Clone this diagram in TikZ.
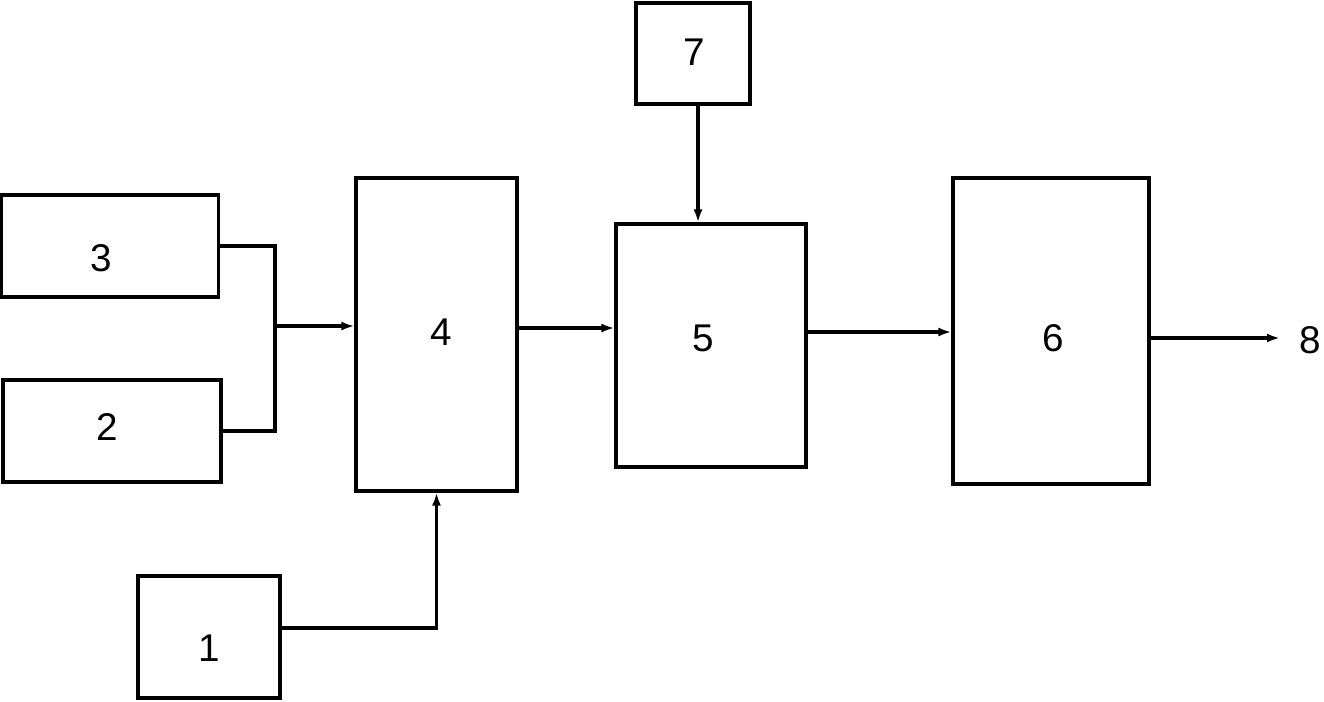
\documentclass[tikz,border=0pt]{standalone}
\usepackage{fontspec}
\setmainfont{Liberation Sans}
\usetikzlibrary{arrows.meta}

\begin{document}
\begin{tikzpicture}[x=0.02cm,y=-0.02cm,line cap=butt,line join=miter,>={Latex[length=2.6mm,width=1.8mm]},
    box/.style={draw,line width=1.8pt,inner sep=0pt},
    num/.style={font=\fontsize{22}{26}\selectfont,inner sep=0pt},
    link/.style={line width=1.8pt}]
        \useasboundingbox (0,0) rectangle (1324,701);
        % blocks
        \node[box,minimum width=4.34cm,minimum height=2.04cm] (b3) at (110,246) {};
        \node[box,minimum width=4.36cm,minimum height=2.04cm] (b2) at (112,431) {};
        \node[box,minimum width=2.84cm,minimum height=2.44cm] (b1) at (209,637) {};
        \node[box,minimum width=3.22cm,minimum height=6.26cm] (b4) at (436.5,334.5) {};
        \node[box,minimum width=2.28cm,minimum height=2.02cm] (b7) at (693,53.5) {};
        \node[box,minimum width=3.80cm,minimum height=4.86cm] (b5) at (711,345.5) {};
        \node[box,minimum width=3.92cm,minimum height=6.12cm] (b6) at (1051,331) {};
        % numbers
        \node[num] (t3) at (101,258) {3};
        \node[num] (t2) at (107,427) {2};
        \node[num] (t1) at (209,648) {1};
        \node[num] (t4) at (441,332) {4};
        \node[num] (t7) at (694,52) {7};
        \node[num] (t5) at (703,338) {5};
        \node[num] (t6) at (1053,338) {6};
        \node[num] (t8) at (1310,340) {8};
        \coordinate (join) at (275,326);
        \coordinate (end) at (1280,338);
        % connectors
        \draw[link] (b3.east) -| (join) |- (b2.east);
        \draw[link,->] (join) -- (join -| b4.west);
        \draw[link,->] (b1.east |- 0,628) -| (b4.south);
        \draw[link,->] (b4.east |- 0,328) -- (b5.west |- 0,328);
        \draw[link,->] (b7.south -| 698,0) -- (b5.north -| 698,0);
        \draw[link,->] (b5.east |- 0,332) -- (b6.west |- 0,332);
        \draw[link,->] (b6.east |- end) -- (end);
      \end{tikzpicture}
\end{document}
